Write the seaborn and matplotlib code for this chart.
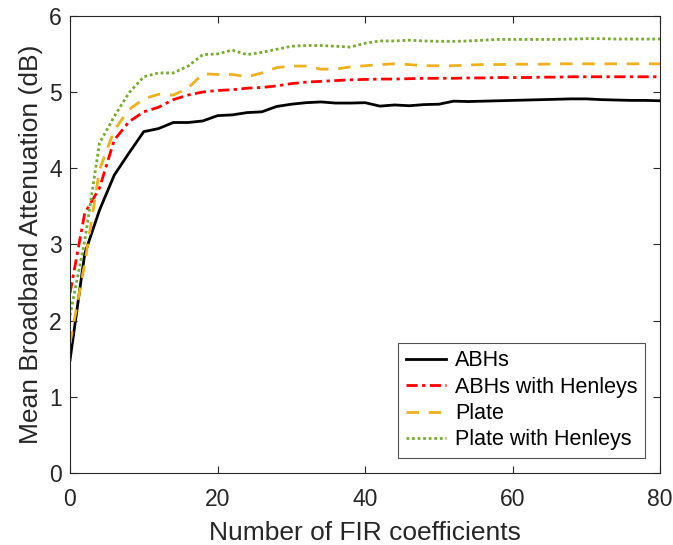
import numpy as np
import pandas as pd
import matplotlib
matplotlib.use("Agg")
import matplotlib.pyplot as plt
import seaborn as sns

x = list(range(0, 81, 2))

abhs = [1.48, 2.88, 3.45, 3.91, 4.20, 4.48, 4.52, 4.60, 4.60, 4.62, 4.69,
        4.70, 4.73, 4.74, 4.81, 4.84, 4.86, 4.87, 4.855, 4.855, 4.86,
        4.815, 4.83, 4.82, 4.835, 4.84, 4.88, 4.875, 4.88, 4.885, 4.89,
        4.895, 4.90, 4.905, 4.91, 4.91, 4.90, 4.895, 4.89, 4.89, 4.885]
abhs_h = [2.36, 3.41, 3.74, 4.37, 4.61, 4.74, 4.80, 4.90, 4.96, 5.00, 5.02,
          5.03, 5.05, 5.06, 5.08, 5.11, 5.13, 5.14, 5.15, 5.16, 5.165,
          5.17, 5.17, 5.175, 5.18, 5.18, 5.18, 5.185, 5.185, 5.19, 5.19,
          5.19, 5.195, 5.195, 5.20, 5.20, 5.20, 5.20, 5.20, 5.20, 5.20]
plate = [1.70, 2.75, 3.98, 4.50, 4.77, 4.91, 4.97, 4.96, 5.05, 5.24, 5.23,
         5.23, 5.20, 5.25, 5.32, 5.34, 5.34, 5.30, 5.30, 5.33, 5.345,
         5.36, 5.37, 5.36, 5.345, 5.345, 5.345, 5.355, 5.36, 5.36, 5.365,
         5.365, 5.365, 5.37, 5.37, 5.37, 5.37, 5.37, 5.37, 5.37, 5.37]
plate_h = [2.07, 3.05, 4.33, 4.68, 4.99, 5.20, 5.25, 5.25, 5.34, 5.49, 5.50,
           5.55, 5.49, 5.52, 5.56, 5.60, 5.61, 5.61, 5.60, 5.59, 5.64,
           5.67, 5.67, 5.68, 5.67, 5.665, 5.665, 5.67, 5.68, 5.69, 5.69,
           5.69, 5.69, 5.69, 5.695, 5.70, 5.70, 5.695, 5.695, 5.695, 5.695]

labels = ["ABHs", "ABHs with Henleys", "Plate", "Plate with Henleys"]
colors = ["#000000", "#FF0000", "#EDB120", "#77AC30"]
styles = ["-", (0, (4, 1.6, 1.2, 1.6)), (0, (4.5, 3.5)), (0, (1, 1))]

plt.rcParams['font.family'] = ['Liberation Sans', 'DejaVu Sans']
fig = plt.figure(figsize=(6.73, 5.45), dpi=100)
ax = fig.add_axes([0.104, 0.132, 0.877, 0.839])

for ys, lab, c, ls in zip([abhs, abhs_h, plate, plate_h], labels, colors, styles):
    df = pd.DataFrame({"x": x, "y": ys})
    sns.lineplot(data=df, x="x", y="y", ax=ax, color=c, linewidth=2.0,
                 linestyle=ls, label=lab)

ax.set_xlim(0, 80)
ax.set_ylim(0, 6)
ax.set_xticks([0, 20, 40, 60, 80])
ax.set_yticks([0, 1, 2, 3, 4, 5, 6])
ax.set_xlabel("Number of FIR coefficients", fontsize=19, color="#262626", labelpad=7)
ax.set_ylabel("Mean Broadband Attenuation (dB)", fontsize=19, color="#262626", labelpad=4)
ax.tick_params(direction="in", top=True, right=True, labelsize=16.5,
               colors="#262626", length=5, width=0.8)
ax.tick_params(axis="x", pad=11)
ax.tick_params(axis="y", pad=6)
for s in ax.spines.values():
    s.set_color("#262626")
    s.set_linewidth(0.8)

leg = ax.legend(loc="lower right", fontsize=15.5, frameon=True, fancybox=False,
                edgecolor="#262626", handlelength=1.85, handletextpad=0.45,
                borderpad=0.35, labelspacing=0.25, borderaxespad=0,
                bbox_to_anchor=(0.975, 0.033))
leg.get_frame().set_linewidth(0.8)

fig.savefig("out.png", dpi=100)
